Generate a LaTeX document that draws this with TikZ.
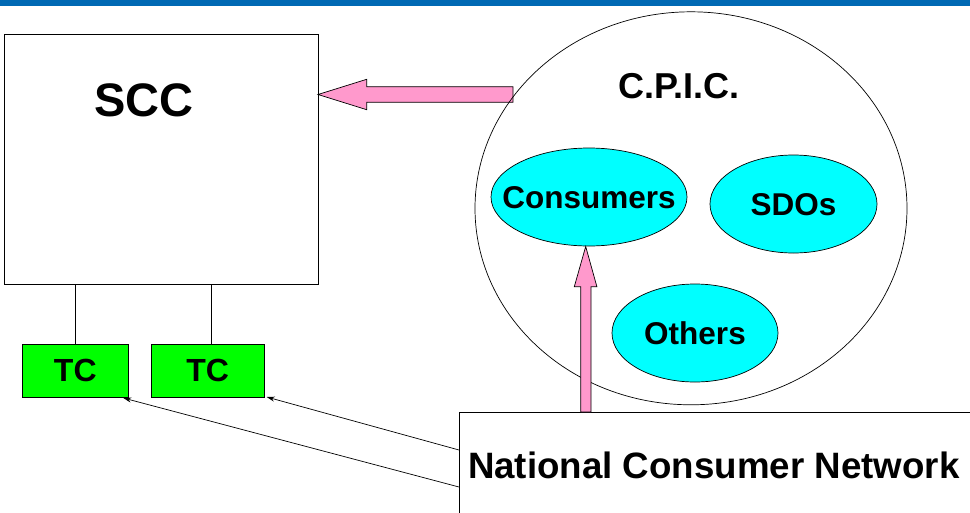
\documentclass[tikz,border=0pt]{standalone}
\usepackage{fontspec}
\setmainfont{Liberation Sans}
\usetikzlibrary{shapes.geometric,arrows.meta,calc}
\definecolor{barblue}{HTML}{0069B4}
\definecolor{pinkfill}{HTML}{FF99CC}
\definecolor{ovalcyan}{HTML}{00FFFF}
\definecolor{tcgreen}{HTML}{00FF00}

\begin{document}
\begin{tikzpicture}[x=1pt,y=-1pt,
  frame/.style={draw=black, line width=0.9pt, inner sep=0pt, outer sep=0pt},
  oval/.style={ellipse, draw=black, line width=0.7pt, fill=ovalcyan, inner sep=0pt, outer sep=0pt},
  tcbox/.style={frame, fill=tcgreen, minimum height=53pt, text height=22.9pt, text depth=0pt,
    font=\bfseries\fontsize{32}{32}\selectfont},
  txt/.style={inner sep=0pt, outer sep=0pt, font=\bfseries\fontsize{#1}{#1}\selectfont},
  captxt/.style={txt=#1, text height=0.716*#1 pt, text depth=0pt},
  blockarrow/.style={draw=black, line width=0.7pt, fill=pinkfill, line join=miter},
  thinline/.style={draw=black, line width=0.7pt},
  feed/.style={thinline, -{Stealth[length=8pt,width=5pt]}}
]
\useasboundingbox (0,0) rectangle (970,512);
\clip (0,0) rectangle (970,512);

% title bar
\fill[barblue] (0,0) rectangle (970,6);

% SCC and its technical committees
\node[frame, minimum width=314pt, minimum height=250pt] (scc) at (161,159) {};
\node[txt=47, anchor=base] (sccT) at (144,116) {SCC};
\node[tcbox, minimum width=106pt] (tc1) at (75.3,370.5) {TC};
\node[tcbox, minimum width=113pt] (tc2) at (207.7,370.5) {TC};
\draw[thinline] (tc1.north) -- (tc1.north |- scc.south);
\draw[thinline] ($(tc2.north)+(3.5,0)$) -- ($(tc2.north |- scc.south)+(3.5,0)$);

% block arrow from C.P.I.C. to SCC
\draw[blockarrow] (513,86.7) -- (366.7,86.7) -- (366.7,79.3) -- (scc.east |- 0,94.5)
  -- (366.7,109.7) -- (366.7,102.3) -- (513,102.3) -- cycle;

% C.P.I.C. and its members
\node[ellipse, draw=black, line width=0.7pt, inner sep=0pt,
  minimum width=432pt, minimum height=393pt] (cpic) at (691,208.3) {};
\node[txt=36, anchor=base] (cpicT) at (679,98.5) {C.P.I.C.};
\node[oval, minimum width=196pt, minimum height=98pt] (cons) at (589,197) {};
\node[captxt=31.5] (consT) at (cons.center) {Consumers};
\node[oval, minimum width=167pt, minimum height=98pt] (sdo) at (793.5,204) {};
\node[captxt=31.5] (sdoT) at (sdo.center) {SDOs};
\node[oval, minimum width=166pt, minimum height=98pt] (oth) at (695,333) {};
\node[captxt=31.5] (othT) at (oth.center) {Others};

% National Consumer Network
\node[frame, anchor=north west, minimum width=530pt, minimum height=120pt] (ncn) at (459,412) {};
\node[txt=36.7, anchor=base west] (ncnT) at (468,478.5) {National Consumer Network};

% block arrow from the network up to Consumers
\draw[blockarrow] (580.7,412) -- (580.7,286.7) -- (574.3,286.7) -- (585.7,246.5)
  -- (596.9,286.7) -- (591,286.7) -- (591,412) -- cycle;

% links from the network to the TCs
\coordinate (f1) at ($(ncn.north west)+(0,38)$);
\coordinate (f2) at ($(ncn.north west)+(0,75)$);
\draw[feed] (f1) -- ($(tc2.south east)+(2.5,0)$);
\draw[feed] (f2) -- ($(tc1.south east)+(-5,1)$);
\end{tikzpicture}
\end{document}
